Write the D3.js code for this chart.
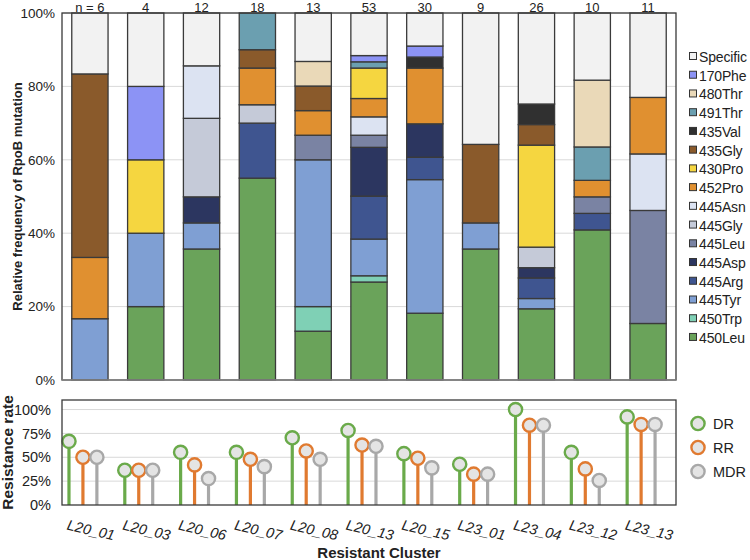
<!DOCTYPE html>
<html><head><meta charset="utf-8">
<script src="https://cdn.jsdelivr.net/npm/d3@7"></script>
<style>body{margin:0;background:#fff;} text{font-family:"Liberation Sans",Arial,sans-serif;}</style>
</head><body>
<svg id="c" width="750" height="560"></svg>
<script>
const clusters = ["L20_01","L20_03","L20_06","L20_07","L20_08","L20_13","L20_15","L23_01","L23_04","L23_12","L23_13"];
const counts = ["n = 6","4","12","18","13","53","30","9","26","10","11"];
// stacking order bottom -> top
const mutations = ["450Leu","450Trp","445Tyr","445Arg","445Asp","445Leu","445Gly","445Asn","452Pro","430Pro","435Gly","435Val","491Thr","480Thr","170Phe","Specific"];
const mutColors = ["#6aa35a","#7fd0b5","#7f9fd3","#3f5590","#2c3660","#7a83a3","#c5cad8","#dce3f2","#e09030","#f5d640","#8a5a2b","#303030","#6b9fb0","#ead9b8","#8c93f5","#f2f2f2"];
const v450Leu  = [0,20,35.7,55,13.3,26.7,18.2,35.7,19.4,40.9,15.4];
const v450Trp  = [0,0,0,0,6.7,1.7,0,0,0,0,0];
const v445Tyr  = [16.7,20,7.1,0,40,10,36.4,7.1,2.8,0,0];
const v445Arg  = [0,0,0,15,0,11.7,6.1,0,5.6,4.5,0];
const v445Asp  = [0,0,7.1,0,0,13.3,9.1,0,2.8,0,0];
const v445Leu  = [0,0,0,0,6.7,3.3,0,0,0,4.5,30.8];
const v445Gly  = [0,0,21.4,5,0,0,0,0,5.6,0,0];
const v445Asn  = [0,0,14.3,0,0,5,0,0,0,0,15.4];
const v452Pro  = [16.7,0,0,10,6.7,5,15.2,0,0,4.5,15.4];
const v430Pro  = [0,20,0,0,0,8.3,0,0,27.8,0,0];
const v435Gly  = [50,0,0,5,6.7,0,0,21.4,5.6,0,0];
const v435Val  = [0,0,0,0,0,0,3,0,5.6,0,0];
const v491Thr  = [0,0,0,10,0,1.7,0,0,0,9.1,0];
const v480Thr  = [0,0,0,0,6.7,0,0,0,0,18.2,0];
const v170Phe  = [0,20,0,0,0,1.7,3,0,0,0,0];
const vSpecific= [16.6,20,14.4,10,13.2,11.6,9.0,35.8,24.8,18.3,23.0];
const mutValues = [v450Leu,v450Trp,v445Tyr,v445Arg,v445Asp,v445Leu,v445Gly,v445Asn,v452Pro,v430Pro,v435Gly,v435Val,v491Thr,v480Thr,v170Phe,vSpecific];
const topTicks = [0,20,40,60,80,100];

const rateSeries = ["DR","RR","MDR"];
const rateColors = ["#6aaa4a","#e07a30","#a8a8a8"];
const DR  = [66.7,36.4,55.2,55.2,70.4,78.1,53.8,42.7,100,55.2,92.3];
const RR  = [50,36.4,42,47.9,56.6,62.8,49,32.3,83.6,37.8,84.4];
const MDR = [50,36.4,27.7,40.2,47.9,61.5,38.9,32.3,83.6,25.7,84.4];
const rateValues = [DR,RR,MDR];
const bottomTicks = [0,25,50,75,100];

const svg = d3.select("#c");
const L = 62, R = 676;
// ---------- top chart ----------
const tT = 13, tB = 380;
const x = d3.scaleBand().domain(clusters).range([L,R]).paddingInner(0.35).paddingOuter(0.175);
const y = d3.scaleLinear().domain([0,100]).range([tB,tT]);
svg.append("g").selectAll("line").data(topTicks.slice(1)).join("line")
  .attr("x1",L).attr("x2",R).attr("y1",d=>y(d)).attr("y2",d=>y(d))
  .attr("stroke","#d9d9d9").attr("stroke-width",1);
const stackData = clusters.map((c,i)=>{const o={c}; mutations.forEach((m,j)=>o[m]=mutValues[j][i]); return o;});
const stack = d3.stack().keys(mutations)(stackData);
stack.forEach((layer,j)=>{
  svg.append("g").selectAll("rect").data(layer.filter(d=>d[1]-d[0]>0)).join("rect")
    .attr("x",d=>x(d.data.c)).attr("width",x.bandwidth())
    .attr("y",d=>y(Math.min(100,d[1]))).attr("height",d=>y(d[0])-y(Math.min(100,d[1])))
    .attr("fill",mutColors[j]).attr("stroke","#3a3a3a").attr("stroke-width",1.3);
});
svg.append("rect").attr("x",L).attr("y",tT).attr("width",R-L).attr("height",tB-tT)
  .attr("fill","none").attr("stroke","#3a3a3a").attr("stroke-width",1.3);
svg.append("line").attr("x1",L).attr("x2",R).attr("y1",tB).attr("y2",tB).attr("stroke","#888").attr("stroke-width",1.5);
const yAx = svg.append("g").attr("transform",`translate(${L},0)`)
  .call(d3.axisLeft(y).tickValues(topTicks).tickFormat(d=>d+"%").tickSize(0).tickPadding(7));
yAx.select(".domain").remove();
yAx.selectAll("text").attr("font-size",13.5).attr("fill","#222").attr("font-family","Liberation Sans, Arial");
svg.append("g").selectAll("text").data(counts).join("text")
  .attr("x",(d,i)=>x(clusters[i])+x.bandwidth()/2).attr("y",12)
  .attr("text-anchor","middle").attr("font-size",13).attr("fill","#222").text(d=>d);
svg.append("text").attr("transform",`translate(22,${(tT+tB)/2}) rotate(-90)`)
  .attr("text-anchor","middle").attr("font-size",13).attr("font-weight","bold").attr("fill","#222")
  .text("Relative frequency of RpoB mutation");
// legend
const legOrder = mutations.map((m,j)=>j).reverse();
const lg = svg.append("g");
legOrder.forEach((j,k)=>{
  const yy = 57 + k*18.73;
  lg.append("rect").attr("x",689.5).attr("y",yy-4.5).attr("width",7).attr("height",7)
    .attr("fill",mutColors[j]).attr("stroke","#333").attr("stroke-width",1);
  lg.append("text").attr("x",699).attr("y",yy+5).attr("font-size",14).attr("fill","#222")
    .attr("letter-spacing","-0.15").text(mutations[j]);
});
// ---------- bottom chart ----------
const bT = 400, bB = 505;
const xb = d3.scaleBand().domain(clusters).range([L,R]);
const sub = d3.scaleBand().domain(["DR","RR","MDR","_"]).range([0,xb.bandwidth()]);
const yb = d3.scaleLinear().domain([0,110]).range([bB,bT]);
svg.append("g").selectAll("line").data(bottomTicks.slice(1)).join("line")
  .attr("x1",L).attr("x2",R).attr("y1",d=>yb(d)).attr("y2",d=>yb(d))
  .attr("stroke","#d9d9d9").attr("stroke-width",1);
rateSeries.forEach((s,k)=>{
  const g = svg.append("g");
  const cx = i=>xb(clusters[i])+sub(s)+sub.bandwidth()/2;
  g.selectAll("line").data(rateValues[k]).join("line")
    .attr("x1",(d,i)=>cx(i)).attr("x2",(d,i)=>cx(i)).attr("y1",yb(0)).attr("y2",d=>yb(d))
    .attr("stroke",rateColors[k]).attr("stroke-width",3.2);
  g.selectAll("circle").data(rateValues[k]).join("circle")
    .attr("cx",(d,i)=>cx(i)).attr("cy",d=>yb(d)).attr("r",6.6)
    .attr("fill","#e4e4e4").attr("stroke",rateColors[k]).attr("stroke-width",2.4);
});
svg.append("rect").attr("x",L).attr("y",bT).attr("width",R-L).attr("height",bB-bT)
  .attr("fill","none").attr("stroke","#3a3a3a").attr("stroke-width",1.3);
const ybAx = svg.append("g").attr("transform",`translate(${L},0)`)
  .call(d3.axisLeft(yb).tickValues(bottomTicks).tickFormat(d=>d+"%").tickSize(0).tickPadding(11));
ybAx.select(".domain").remove();
ybAx.selectAll("text").attr("font-size",14.5).attr("fill","#222").attr("font-family","Liberation Sans, Arial");
svg.append("g").selectAll("text").data(clusters).join("text")
  .attr("transform",c=>`translate(${xb(c)+xb.bandwidth()/2+1},530) rotate(13)`)
  .attr("text-anchor","middle").attr("dy","0.35em").attr("font-size",14.5).attr("font-style","italic")
  .attr("fill","#222").text(d=>d);
svg.append("text").attr("x",379).attr("y",558).attr("text-anchor","middle")
  .attr("font-size",15).attr("font-weight","bold").attr("fill","#222").text("Resistant Cluster");
svg.append("text").attr("transform",`translate(13,${(bT+bB)/2}) rotate(-90)`)
  .attr("text-anchor","middle").attr("font-size",15.5).attr("font-weight","bold").attr("fill","#222")
  .text("Resistance rate");
rateSeries.forEach((s,k)=>{
  const yy = 423.5 + k*24;
  svg.append("circle").attr("cx",698).attr("cy",yy).attr("r",6.6)
    .attr("fill","#e4e4e4").attr("stroke",rateColors[k]).attr("stroke-width",2.4);
  svg.append("text").attr("x",713).attr("y",yy+5).attr("font-size",14.5).attr("fill","#222").text(s);
});
</script>
</body></html>
